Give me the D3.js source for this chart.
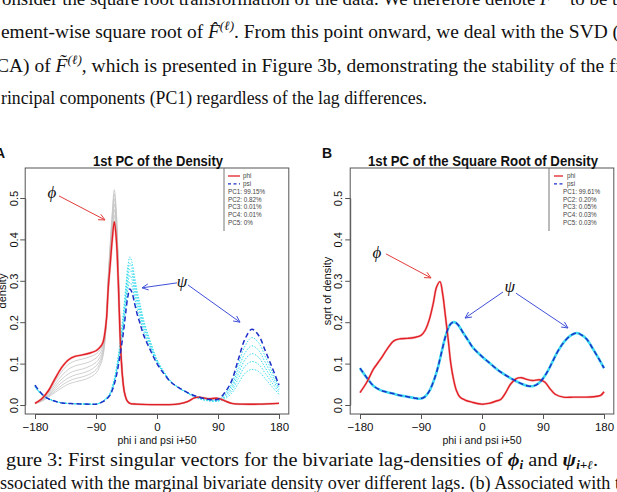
<!DOCTYPE html>
<html lang="en">
<head>
<meta charset="UTF-8">
<title>1st PC of the Density</title>
<script src="https://cdn.jsdelivr.net/npm/d3@7"></script>
<style>
  body { margin: 0; background: #fff; }
  svg { display: block; }
</style>
</head>
<body>
<script>
// ---- data ----
const xTicks = [-180, -90, 0, 90, 180];
const yTicks = [0, 0.1, 0.2, 0.3, 0.4, 0.5];

// panel A: density, phi
const phiX = [-180,-170,-160,-150,-140,-130,-120,-110,-100,-90,-85,-80,-75,-72,-69,-66,-63,-60,-57,-54,-51,-48,-44,-40,-30,0,30,45,55,62,75,90,100,110,125,150,180];
const phiA = [.004,.015,.035,.065,.092,.11,.118,.121,.125,.131,.138,.15,.2,.28,.34,.4,.443,.4,.29,.15,.07,.03,.01,.004,.002,.001,.002,.008,.017,.019,.015,.016,.01,.004,.002,.002,.004];
// grey lag curves behind phi
const phiLagsA = [
  [.004,.014,.032,.058,.082,.099,.107,.111,.116,.123,.131,.146,.2,.285,.35,.413,.458,.413,.298,.154,.071,.03,.01,.004,.002,.001,.002,.008,.017,.019,.015,.016,.01,.004,.002,.002,.004],
  [.004,.013,.029,.051,.072,.087,.095,.099,.104,.113,.122,.14,.198,.29,.358,.424,.472,.425,.305,.157,.072,.03,.01,.004,.002,.001,.002,.008,.017,.019,.015,.016,.01,.004,.002,.002,.004],
  [.004,.012,.026,.045,.063,.076,.083,.087,.093,.103,.113,.133,.196,.295,.366,.435,.485,.437,.312,.16,.073,.031,.01,.004,.002,.001,.002,.008,.017,.019,.015,.016,.01,.004,.002,.002,.004],
  [.004,.011,.023,.04,.055,.066,.073,.077,.083,.094,.105,.127,.194,.3,.374,.446,.498,.448,.318,.163,.074,.031,.01,.004,.002,.001,.002,.008,.017,.019,.015,.016,.01,.004,.002,.002,.004],
  [.004,.01,.021,.035,.048,.058,.064,.068,.074,.085,.098,.121,.192,.305,.382,.456,.51,.458,.324,.166,.075,.031,.01,.004,.002,.001,.002,.008,.017,.019,.015,.016,.01,.004,.002,.002,.004],
  [.004,.009,.019,.031,.042,.051,.056,.06,.066,.077,.091,.115,.19,.31,.39,.466,.52,.468,.33,.17,.076,.032,.01,.004,.002,.001,.002,.008,.017,.019,.015,.016,.01,.004,.002,.002,.004]
];

// panel A: density, psi
const psiX = [-180,-170,-160,-150,-140,-120,-100,-90,-80,-70,-65,-60,-55,-50,-46,-43,-40,-37,-33,-29,-25,-20,-10,0,10,20,30,45,60,75,90,100,110,120,130,140,150,160,170,180];
const psiA = [.048,.027,.015,.009,.005,.003,.002,.002,.008,.022,.04,.07,.115,.17,.225,.262,.28,.272,.245,.218,.197,.17,.133,.1,.076,.056,.044,.03,.02,.014,.014,.03,.058,.11,.16,.183,.168,.13,.09,.048];
const psiLagsA = [
  [.047,.026,.015,.009,.005,.003,.002,.002,.008,.023,.042,.074,.122,.18,.238,.278,.297,.288,.259,.23,.207,.178,.138,.102,.077,.056,.044,.03,.02,.014,.013,.027,.052,.098,.143,.163,.15,.116,.08,.044],
  [.046,.026,.015,.009,.005,.003,.002,.002,.008,.024,.044,.078,.128,.19,.251,.293,.313,.303,.272,.242,.217,.186,.143,.104,.078,.057,.044,.03,.019,.013,.012,.024,.046,.086,.126,.143,.132,.102,.071,.04],
  [.045,.025,.015,.009,.005,.003,.002,.002,.009,.025,.046,.081,.134,.199,.263,.307,.328,.317,.285,.253,.226,.193,.147,.106,.079,.057,.044,.029,.018,.012,.011,.021,.04,.075,.11,.124,.115,.089,.062,.036],
  [.044,.025,.015,.009,.005,.003,.002,.002,.009,.026,.048,.085,.14,.208,.275,.321,.343,.331,.297,.263,.235,.2,.151,.108,.08,.058,.044,.029,.017,.011,.01,.018,.034,.064,.094,.105,.098,.076,.053,.031],
  [.043,.024,.014,.009,.005,.003,.002,.002,.009,.027,.05,.088,.145,.217,.287,.335,.358,.345,.309,.273,.244,.207,.155,.11,.081,.058,.043,.028,.016,.01,.009,.015,.028,.052,.077,.086,.081,.063,.044,.026]
];

// panel B: square root of density
const phiXB = [-180,-170,-160,-150,-140,-130,-120,-110,-100,-90,-84,-78,-72,-67,-62,-58,-54,-50,-46,-42,-38,-33,-25,-15,0,10,20,28,35,42,50,58,66,75,85,93,100,108,120,135,150,165,175,180];
const phiB = [.030,.055,.087,.11,.135,.155,.16,.161,.163,.168,.18,.205,.245,.285,.298,.268,.215,.16,.1,.062,.036,.02,.012,.007,.002,.004,.009,.014,.03,.05,.063,.066,.062,.059,.061,.055,.04,.026,.019,.019,.019,.02,.023,.032];
const psiXB = [-180,-170,-160,-150,-140,-130,-120,-110,-100,-92,-85,-78,-72,-66,-60,-54,-48,-44,-40,-35,-28,-20,-13,0,10,20,30,40,50,60,68,76,84,90,98,105,112,120,130,140,148,155,162,169,175,180];
const psiB = [.089,.066,.046,.036,.031,.027,.023,.02,.017,.015,.019,.033,.055,.085,.125,.165,.192,.199,.2,.193,.175,.155,.138,.117,.103,.089,.077,.067,.058,.05,.046,.046,.053,.064,.085,.108,.13,.15,.167,.174,.168,.158,.14,.121,.104,.089];

const legendA = ["PC1: 99.15%", "PC2: 0.82%", "PC3: 0.01%", "PC4: 0.01%", "PC5: 0%"];
const legendB = ["PC1: 99.61%", "PC2: 0.20%", "PC3: 0.05%", "PC4: 0.03%", "PC5: 0.03%"];

// annotation anchors in data units: label, arrow start, arrow end
const notesA = [
  {label: "\u03D5", lx: -155, ly: 0.512, color: "#e23b3b", arrows: [[-144.6, 0.505, -76.7, 0.447]]},
  {label: "\u03C8", lx: 37, ly: 0.297, color: "#4050d8", arrows: [[29.5, 0.295, -22.1, 0.283], [45.7, 0.29, 122.5, 0.2]]}
];
const notesB = [
  {label: "\u03D5", lx: -155, ly: 0.367, color: "#e23b3b", arrows: [[-141.6, 0.365, -75.2, 0.307]]},
  {label: "\u03C8", lx: 41, ly: 0.285, color: "#4050d8", arrows: [[31, 0.273, -25, 0.21], [50.2, 0.27, 126.9, 0.186]]}
];

// ---- drawing ----
const svg = d3.select("body").append("svg")
    .attr("width", 617).attr("height", 492)
    .style("background", "#fff");

const sans = "'Liberation Sans', Arial, sans-serif";
const serif = "'Liberation Serif', 'Times New Roman', serif";

const yScale = d3.scaleLinear().domain([0, 0.5]).range([405, 198]);

function zip(xs, ys) { return xs.map((x, i) => [x, ys[i]]); }

function arrow(g, x1, y1, x2, y2, color) {
    g.append("line").attr("x1", x1).attr("y1", y1).attr("x2", x2).attr("y2", y2)
        .attr("stroke", color).attr("stroke-width", 1);
    const a = Math.atan2(y2 - y1, x2 - x1), L = 7, s = Math.PI / 7;
    g.append("path")
        .attr("d", "M" + (x2 - L * Math.cos(a - s)) + "," + (y2 - L * Math.sin(a - s)) +
                   "L" + x2 + "," + y2 +
                   "L" + (x2 - L * Math.cos(a + s)) + "," + (y2 - L * Math.sin(a + s)))
        .attr("fill", "none").attr("stroke", color).attr("stroke-width", 1);
}

function panel(cfg) {
    const x = d3.scaleLinear().domain([-180, 180]).range(cfg.xr);
    const g = svg.append("g");
    const line = () => d3.line().x(d => x(d[0])).y(d => yScale(d[1])).curve(d3.curveCatmullRom.alpha(0.5));

    (cfg.greys || []).forEach(ys => {
        g.append("path").attr("d", line()(zip(cfg.phiX, ys)))
            .attr("fill", "none").attr("stroke", "#c4c4c4").attr("stroke-width", 0.8);
    });
    (cfg.cyans || []).forEach(ys => {
        g.append("path").attr("d", line()(zip(cfg.psiX, ys)))
            .attr("fill", "none").attr("stroke", "#38dcef").attr("stroke-width", 1)
            .attr("stroke-dasharray", "1.5,1.5");
    });
    if (cfg.cyanUnder) {
        g.append("path").attr("d", line()(zip(cfg.psiX, cfg.psi)))
            .attr("fill", "none").attr("stroke", "#3fd9f2").attr("stroke-width", 2.6);
    }
    g.append("path").attr("d", line()(zip(cfg.phiX, cfg.phi)))
        .attr("fill", "none").attr("stroke", "#f08080").attr("stroke-width", 2.4).attr("opacity", 0.5);
    g.append("path").attr("d", line()(zip(cfg.phiX, cfg.phi)))
        .attr("fill", "none").attr("stroke", "#e21f26").attr("stroke-width", 1.4);
    g.append("path").attr("d", line()(zip(cfg.psiX, cfg.psi)))
        .attr("fill", "none").attr("stroke", "#1e2fc8").attr("stroke-width", 1.5)
        .attr("stroke-dasharray", "5,3");

    // box
    g.append("rect").attr("x", cfg.box[0]).attr("y", 168)
        .attr("width", cfg.box[1] - cfg.box[0]).attr("height", 414 - 168)
        .attr("fill", "none").attr("stroke", "#555").attr("stroke-width", 1);

    // x axis
    const xa = g.append("g").attr("transform", "translate(0,414)")
        .call(d3.axisBottom(x).tickValues(xTicks).tickSize(5).tickPadding(4).tickSizeOuter(0));
    xa.select(".domain").attr("stroke", "#555");
    xa.selectAll(".tick line").attr("stroke", "#555");
    xa.selectAll("text").attr("font-family", sans).attr("font-size", 11.5).attr("fill", "#111");

    // y axis, rotated labels as in R
    const ya = g.append("g").attr("transform", "translate(" + cfg.box[0] + ",0)")
        .call(d3.axisLeft(yScale).tickValues(yTicks).tickFormat(d3.format(".1f")).tickSize(5).tickSizeOuter(0));
    ya.select(".domain").attr("stroke", "#555");
    ya.selectAll(".tick line").attr("stroke", "#555");
    ya.selectAll("text")
        .attr("font-family", sans).attr("font-size", 11).attr("fill", "#111")
        .attr("x", 0).attr("dy", null).attr("y", 0)
        .attr("text-anchor", "middle")
        .attr("transform", "translate(" + (cfg.ylabX - cfg.box[0]) + ",0) rotate(-90)");

    // axis titles
    const xc = (cfg.xr[0] + cfg.xr[1]) / 2;
    g.append("text").attr("x", xc).attr("y", 444).attr("text-anchor", "middle")
        .attr("font-family", sans).attr("font-size", 10.5).attr("fill", "#111")
        .text("phi i and psi i+50");
    g.append("text").attr("transform", "translate(" + cfg.ytitleX + ",291) rotate(-90)")
        .attr("text-anchor", "middle")
        .attr("font-family", sans).attr("font-size", 11).attr("fill", "#111")
        .text(cfg.ytitle);

    // title
    g.append("text").attr("x", xc + 1).attr("y", 166).attr("text-anchor", "middle")
        .attr("font-family", sans).attr("font-weight", "bold").attr("font-size", 14.5)
        .attr("textLength", cfg.titleLen).attr("lengthAdjust", "spacingAndGlyphs")
        .attr("fill", "#111").text(cfg.title);
    g.append("text").attr("x", cfg.tag[0]).attr("y", cfg.tag[1])
        .attr("font-family", sans).attr("font-weight", "bold").attr("font-size", 14)
        .attr("fill", "#111").text(cfg.tagText);

    // legend
    const lg = g.append("g");
    lg.append("line").attr("x1", cfg.leg.left).attr("x2", cfg.leg.left)
        .attr("y1", 168).attr("y2", 231).attr("stroke", "#777").attr("stroke-width", 1);
    const ly = i => 176 + 7.8 * i;
    lg.append("line").attr("x1", cfg.leg.seg[0]).attr("x2", cfg.leg.seg[1])
        .attr("y1", ly(0)).attr("y2", ly(0)).attr("stroke", "#e21f26").attr("stroke-width", 1.3);
    lg.append("line").attr("x1", cfg.leg.seg[0]).attr("x2", cfg.leg.seg[1])
        .attr("y1", ly(1)).attr("y2", ly(1)).attr("stroke", "#1e2fc8").attr("stroke-width", 1.3)
        .attr("stroke-dasharray", "3,2.5");
    const ltext = (t, xx, i) => lg.append("text").attr("x", xx).attr("y", ly(i) + 2.2)
        .attr("font-family", sans).attr("font-size", 6.3).attr("fill", "#444").text(t);
    ltext("phi", cfg.leg.name, 0);
    ltext("psi", cfg.leg.name, 1);
    cfg.legend.forEach((t, i) => ltext(t, cfg.leg.pc, i + 2));

    // annotations
    cfg.notes.forEach(n => {
        g.append("text").attr("x", x(n.lx)).attr("y", yScale(n.ly) + 5)
            .attr("text-anchor", "middle").attr("font-family", serif).attr("font-style", "italic")
            .attr("font-size", 17).attr("fill", "#111").text(n.label);
        n.arrows.forEach(a => arrow(g, x(a[0]), yScale(a[1]), x(a[2]), yScale(a[3]), n.color));
    });
}

panel({
    xr: [35, 279], box: [25.2, 288.8], ylabX: 17.5, ytitleX: 6, ytitle: "density",
    title: "1st PC of the Density", titleLen: 130, tag: [-5, 158], tagText: "A",
    phiX: phiX, phi: phiA, psiX: psiX, psi: psiA, greys: phiLagsA, cyans: psiLagsA,
    legend: legendA, leg: {left: 224, seg: [228, 240], name: 243, pc: 228},
    notes: notesA
});
panel({
    xr: [360, 604], box: [350.2, 613.8], ylabX: 342, ytitleX: 330.5, ytitle: "sqrt of density",
    title: "1st PC of the Square Root of Density", titleLen: 230, tag: [322, 158], tagText: "B",
    phiX: phiXB, phi: phiB, psiX: psiXB, psi: psiB, cyanUnder: true,
    legend: legendB, leg: {left: 549, seg: [554, 563], name: 567, pc: 563},
    notes: notesB
});

// ---- surrounding paper text ----
function richLine(segs, x, y, len, size) {
    const t = svg.append("text").attr("x", x).attr("y", y)
        .attr("font-family", serif).attr("font-size", size).attr("fill", "#111")
        .attr("textLength", len).attr("lengthAdjust", "spacingAndGlyphs")
        .attr("xml:space", "preserve");
    segs.forEach(s => {
        const sp = t.append("tspan").text(s.t);
        if (s.i) sp.attr("font-style", "italic");
        if (s.b) sp.attr("font-weight", "bold");
        if (s.sup) { sp.attr("font-size", size * 0.68).attr("dy", -size * 0.42); }
        if (s.sub) { sp.attr("font-size", size * 0.65).attr("dy", size * 0.16); }
        if (s.back) sp.attr("dy", s.back * size);
    });
}

richLine([{t: "onsider the square root transformation of the data. We therefore denote "},
          {t: "F\u0303", i: 1}, {t: "(\u2113)", sup: 1, i: 1}, {t: " to be the", back: 0.42}], 2, 5, 633, 19);
richLine([{t: "ement-wise square root of "}, {t: "F\u0302", i: 1}, {t: "(\u2113)", sup: 1, i: 1},
          {t: ". From this point onward, we deal with the SVD (", back: 0.42}], 1, 38, 618, 19);
richLine([{t: "CA) of "}, {t: "F\u0303", i: 1}, {t: "(\u2113)", sup: 1, i: 1},
          {t: ", which is presented in Figure 3b, demonstrating the stability of the fi", back: 0.42}], -4, 71.5, 625, 19);
richLine([{t: "rincipal components (PC1) regardless of the lag differences."}], 1, 104, 426, 19);

richLine([{t: "gure 3: First singular vectors for the bivariate lag-densities of "},
          {t: "\u03D5", i: 1, b: 1}, {t: "i", sub: 1, i: 1, b: 1},
          {t: " and ", back: -0.16}, {t: "\u03C8", i: 1, b: 1}, {t: "i+\u2113", sub: 1, i: 1, b: 1},
          {t: ".", back: -0.16}], 6, 466, 592, 19);
richLine([{t: "ssociated with the marginal bivariate density over different lags. (b) Associated with t"}], 0, 489, 620, 19);
</script>
</body>
</html>
